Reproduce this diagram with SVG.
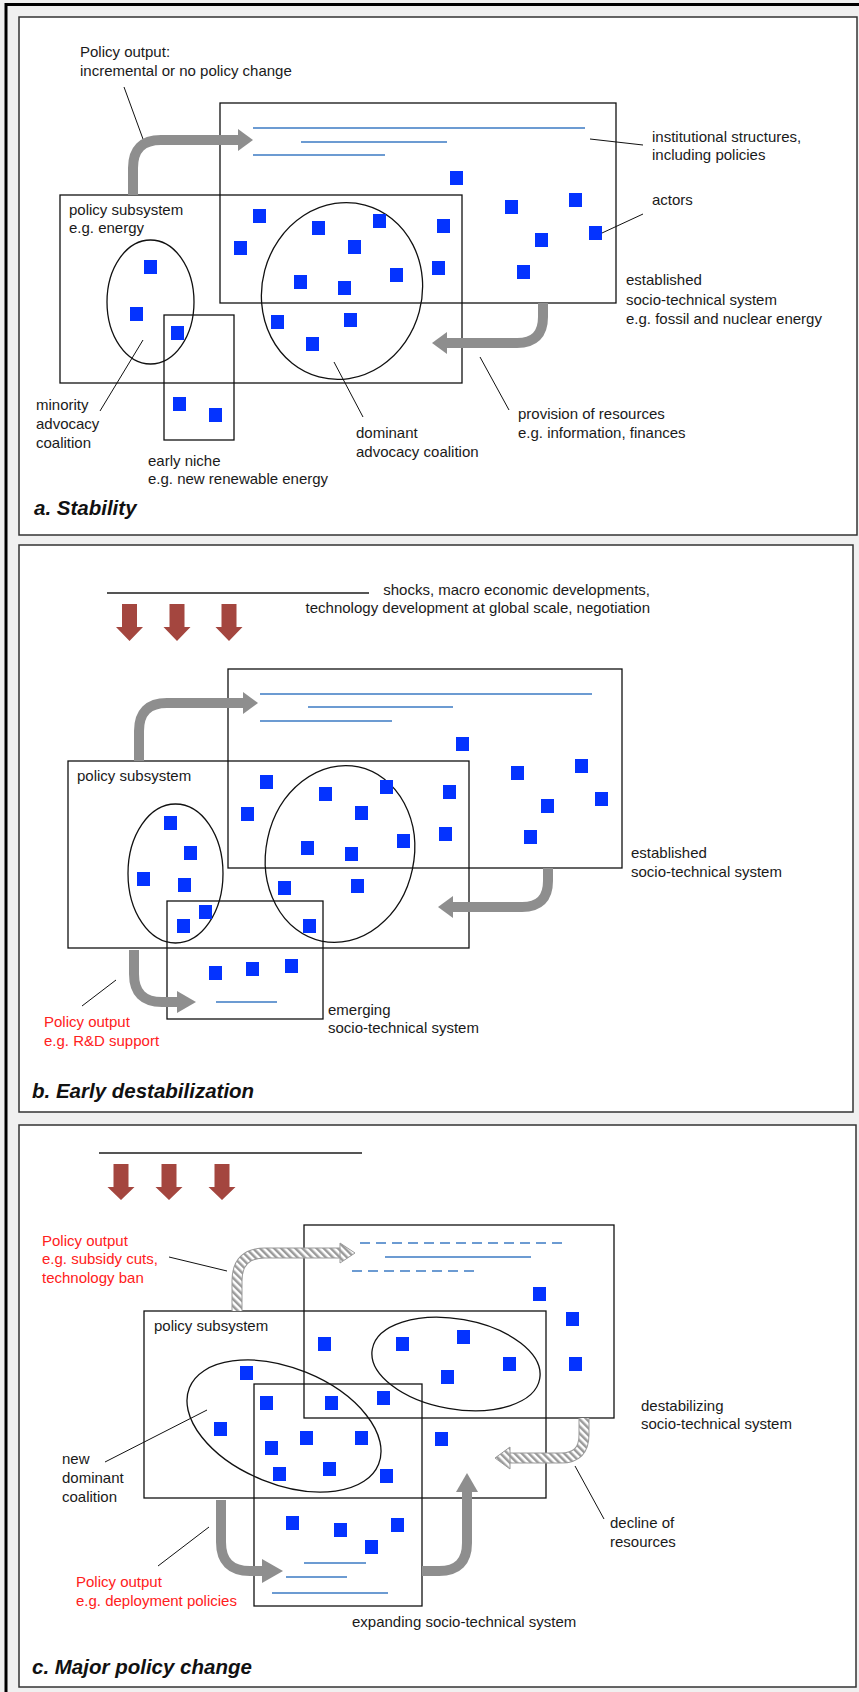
<svg xmlns="http://www.w3.org/2000/svg" width="859" height="1692" viewBox="0 0 859 1692">
<defs>
<style>
.t{font-family:"Liberation Sans",Arial,sans-serif;font-size:15px;fill:#1a1a1a}
.r{fill:#ff2020}
.ti{font-family:"Liberation Sans",Arial,sans-serif;font-size:20.5px;font-weight:bold;font-style:italic;fill:#111}
.panel{fill:#fff;stroke:#333;stroke-width:1.5}
.box{fill:none;stroke:#111;stroke-width:1.3}
.ell{fill:none;stroke:#111;stroke-width:1.3}
.sq{fill:#0433ff}
.bl{stroke:#6c9bd2;stroke-width:2.2;fill:none}
.bd{stroke:#6c9bd2;stroke-width:2.2;fill:none;stroke-dasharray:10 6}
.lead{stroke:#111;stroke-width:1;fill:none}
.ga{stroke:#8e8e8e;stroke-width:10;fill:none}
.gh{fill:#8e8e8e}
.ho{stroke:#999;stroke-width:11;fill:none}
.hi{stroke:url(#hatch);stroke-width:9;fill:none}
.hh{fill:url(#hatch);stroke:#999;stroke-width:1}
.ra{fill:#a4463f}
.dk{stroke:#555;stroke-width:2}
</style>
<pattern id="hatch" patternUnits="userSpaceOnUse" width="5" height="5" patternTransform="rotate(-45)">
<rect width="5" height="5" fill="#fff"/>
<rect width="2.5" height="5" fill="#9a9a9a"/>
</pattern>
</defs>
<rect x="0" y="0" width="859" height="1692" fill="#f0f0f0"/>
<rect x="6" y="4.5" width="900" height="1800" fill="none" stroke="#000" stroke-width="3"/>

<!-- Panel a -->
<g id="panel-a">
<rect class="panel" x="19" y="17" width="838" height="518"/>
<g id="a-established">
<rect class="box" x="220" y="103" width="396" height="200"/>
<line class="bl" x1="253" y1="128" x2="585" y2="128"/>
<line class="bl" x1="301" y1="142" x2="447" y2="142"/>
<line class="bl" x1="253" y1="155" x2="385" y2="155"/>
</g>
<g id="a-policy-subsystem"><rect class="box" x="60" y="195" width="402" height="188"/></g>
<g id="a-minority"><ellipse class="ell" cx="150.5" cy="302" rx="43.5" ry="62"/></g>
<g id="a-niche"><rect class="box" x="164" y="315" width="70" height="125"/></g>
<g id="a-dominant"><ellipse class="ell" cx="342" cy="291" rx="80" ry="89" transform="rotate(15 342 291)"/></g>
<g id="a-actors">
<rect class="sq" x="253" y="209" width="13" height="14"/>
<rect class="sq" x="234" y="241" width="13" height="14"/>
<rect class="sq" x="312" y="221" width="13" height="14"/>
<rect class="sq" x="373" y="214" width="13" height="14"/>
<rect class="sq" x="348" y="240" width="13" height="14"/>
<rect class="sq" x="390" y="268" width="13" height="14"/>
<rect class="sq" x="294" y="275" width="13" height="14"/>
<rect class="sq" x="144" y="260" width="13" height="14"/>
<rect class="sq" x="450" y="171" width="13" height="14"/>
<rect class="sq" x="437" y="219" width="13" height="14"/>
<rect class="sq" x="432" y="261" width="13" height="14"/>
<rect class="sq" x="505" y="200" width="13" height="14"/>
<rect class="sq" x="569" y="193" width="13" height="14"/>
<rect class="sq" x="535" y="233" width="13" height="14"/>
<rect class="sq" x="589" y="226" width="13" height="14"/>
<rect class="sq" x="517" y="265" width="13" height="14"/>
<rect class="sq" x="338" y="281" width="13" height="14"/>
<rect class="sq" x="130" y="307" width="13" height="14"/>
<rect class="sq" x="171" y="326" width="13" height="14"/>
<rect class="sq" x="271" y="315" width="13" height="14"/>
<rect class="sq" x="344" y="313" width="13" height="14"/>
<rect class="sq" x="306" y="337" width="13" height="14"/>
<rect class="sq" x="173" y="397" width="13" height="14"/>
<rect class="sq" x="209" y="408" width="13" height="14"/>
</g>
<g id="a-labels">
<text class="t" x="80" y="57">Policy output:</text>
<text class="t" x="80" y="76">incremental or no policy change</text>
<text class="t" x="652" y="142">institutional structures,</text>
<text class="t" x="652" y="160">including policies</text>
<text class="t" x="652" y="205">actors</text>
<text class="t" x="69" y="215">policy subsystem</text>
<text class="t" x="69" y="233">e.g. energy</text>
<text class="t" x="626" y="285">established</text>
<text class="t" x="626" y="305">socio-technical system</text>
<text class="t" x="626" y="324">e.g. fossil and nuclear energy</text>
<text class="t" x="36" y="410">minority</text>
<text class="t" x="36" y="429">advocacy</text>
<text class="t" x="36" y="448">coalition</text>
<text class="t" x="148" y="466">early niche</text>
<text class="t" x="148" y="484">e.g. new renewable energy</text>
<text class="t" x="356" y="438">dominant</text>
<text class="t" x="356" y="457">advocacy coalition</text>
<text class="t" x="518" y="419">provision of resources</text>
<text class="t" x="518" y="438">e.g. information, finances</text>
<text class="ti" x="34" y="515">a. Stability</text>
</g>
</g>

<!-- Panel b -->
<g id="panel-b">
<rect class="panel" x="19" y="545" width="834" height="567"/>
<g id="b-landscape">
<line class="dk" x1="107" y1="593" x2="369" y2="593"/>
<polygon class="ra" points="122,604 137,604 137,627 143,627 129.5,641 116,627 122,627"/>
<polygon class="ra" points="169.5,604 184.5,604 184.5,627 190.5,627 177,641 163.5,627 169.5,627"/>
<polygon class="ra" points="221.5,604 236.5,604 236.5,627 242.5,627 229,641 215.5,627 221.5,627"/>
<text class="t" x="650" y="595" text-anchor="end">shocks, macro economic developments,</text>
<text class="t" x="650" y="613" text-anchor="end">technology development at global scale, negotiation</text>
</g>
<g id="b-established">
<rect class="box" x="228" y="669" width="394" height="199"/>
<line class="bl" x1="260" y1="694" x2="592" y2="694"/>
<line class="bl" x1="308" y1="707" x2="453" y2="707"/>
<line class="bl" x1="260" y1="721" x2="392" y2="721"/>
</g>
<g id="b-policy-subsystem"><rect class="box" x="68" y="761" width="401" height="187"/></g>
<g id="b-minority"><ellipse class="ell" cx="175.5" cy="873.5" rx="47.5" ry="69.5"/></g>
<g id="b-dominant"><ellipse class="ell" cx="340" cy="854" rx="74" ry="89" transform="rotate(12 340 854)"/></g>
<g id="b-emerging">
<rect class="box" x="167" y="901" width="156" height="118"/>
<line class="bl" x1="216" y1="1002" x2="277" y2="1002"/>
</g>
<g id="b-actors">
<rect class="sq" x="260" y="775" width="13" height="14"/>
<rect class="sq" x="241" y="807" width="13" height="14"/>
<rect class="sq" x="319" y="787" width="13" height="14"/>
<rect class="sq" x="380" y="780" width="13" height="14"/>
<rect class="sq" x="355" y="806" width="13" height="14"/>
<rect class="sq" x="397" y="834" width="13" height="14"/>
<rect class="sq" x="164" y="816" width="13" height="14"/>
<rect class="sq" x="456" y="737" width="13" height="14"/>
<rect class="sq" x="443" y="785" width="13" height="14"/>
<rect class="sq" x="439" y="827" width="13" height="14"/>
<rect class="sq" x="511" y="766" width="13" height="14"/>
<rect class="sq" x="575" y="759" width="13" height="14"/>
<rect class="sq" x="541" y="799" width="13" height="14"/>
<rect class="sq" x="595" y="792" width="13" height="14"/>
<rect class="sq" x="524" y="830" width="13" height="14"/>
<rect class="sq" x="184" y="846" width="13" height="14"/>
<rect class="sq" x="137" y="872" width="13" height="14"/>
<rect class="sq" x="178" y="878" width="13" height="14"/>
<rect class="sq" x="199" y="905" width="13" height="14"/>
<rect class="sq" x="177" y="919" width="13" height="14"/>
<rect class="sq" x="301" y="841" width="13" height="14"/>
<rect class="sq" x="345" y="847" width="13" height="14"/>
<rect class="sq" x="278" y="881" width="13" height="14"/>
<rect class="sq" x="351" y="879" width="13" height="14"/>
<rect class="sq" x="303" y="919" width="13" height="14"/>
<rect class="sq" x="209" y="966" width="13" height="14"/>
<rect class="sq" x="246" y="962" width="13" height="14"/>
<rect class="sq" x="285" y="959" width="13" height="14"/>
</g>
<g id="b-labels">
<text class="t" x="77" y="781">policy subsystem</text>
<text class="t" x="631" y="858">established</text>
<text class="t" x="631" y="877">socio-technical system</text>
<text class="t" x="328" y="1015">emerging</text>
<text class="t" x="328" y="1033">socio-technical system</text>
<text class="t r" x="44" y="1027">Policy output</text>
<text class="t r" x="44" y="1046">e.g. R&amp;D support</text>
<text class="ti" x="32" y="1098">b. Early destabilization</text>
</g>
</g>

<!-- Panel c -->
<g id="panel-c">
<rect class="panel" x="19" y="1125" width="837" height="562"/>
<g id="c-landscape">
<line class="dk" x1="99" y1="1153" x2="362" y2="1153"/>
<polygon class="ra" points="113.5,1164 128.5,1164 128.5,1187 134.5,1187 121,1200 107.5,1187 113.5,1187"/>
<polygon class="ra" points="161.5,1164 176.5,1164 176.5,1187 182.5,1187 169,1200 155.5,1187 161.5,1187"/>
<polygon class="ra" points="214.5,1164 229.5,1164 229.5,1187 235.5,1187 222,1200 208.5,1187 214.5,1187"/>
</g>
<g id="c-destabilizing">
<rect class="box" x="304" y="1225" width="310" height="193"/>
<line class="bd" x1="360" y1="1243" x2="566" y2="1243"/>
<line class="bl" x1="385" y1="1257" x2="531" y2="1257"/>
<line class="bd" x1="352" y1="1271" x2="474" y2="1271"/>
</g>
<g id="c-policy-subsystem"><rect class="box" x="144" y="1311" width="402" height="187"/></g>
<g id="c-expanding">
<rect class="box" x="254" y="1384" width="168" height="222"/>
<line class="bl" x1="304" y1="1563" x2="366" y2="1563"/>
<line class="bl" x1="286" y1="1577" x2="347" y2="1577"/>
<line class="bl" x1="272" y1="1593" x2="388" y2="1593"/>
</g>
<g id="c-old-coalition"><ellipse class="ell" cx="456" cy="1364" rx="85" ry="45" transform="rotate(10 456 1364)"/></g>
<g id="c-new-coalition"><ellipse class="ell" cx="284" cy="1426" rx="102" ry="58" transform="rotate(22 284 1426)"/></g>
<g id="c-actors">
<rect class="sq" x="318" y="1337" width="13" height="14"/>
<rect class="sq" x="396" y="1337" width="13" height="14"/>
<rect class="sq" x="240" y="1366" width="13" height="14"/>
<rect class="sq" x="260" y="1396" width="13" height="14"/>
<rect class="sq" x="325" y="1396" width="13" height="14"/>
<rect class="sq" x="377" y="1391" width="13" height="14"/>
<rect class="sq" x="533" y="1287" width="13" height="14"/>
<rect class="sq" x="566" y="1312" width="13" height="14"/>
<rect class="sq" x="457" y="1330" width="13" height="14"/>
<rect class="sq" x="503" y="1357" width="13" height="14"/>
<rect class="sq" x="441" y="1370" width="13" height="14"/>
<rect class="sq" x="569" y="1357" width="13" height="14"/>
<rect class="sq" x="214" y="1422" width="13" height="14"/>
<rect class="sq" x="265" y="1441" width="13" height="14"/>
<rect class="sq" x="300" y="1431" width="13" height="14"/>
<rect class="sq" x="355" y="1431" width="13" height="14"/>
<rect class="sq" x="273" y="1467" width="13" height="14"/>
<rect class="sq" x="323" y="1462" width="13" height="14"/>
<rect class="sq" x="380" y="1469" width="13" height="14"/>
<rect class="sq" x="286" y="1516" width="13" height="14"/>
<rect class="sq" x="334" y="1523" width="13" height="14"/>
<rect class="sq" x="391" y="1518" width="13" height="14"/>
<rect class="sq" x="365" y="1540" width="13" height="14"/>
<rect class="sq" x="435" y="1432" width="13" height="14"/>
</g>
<g id="c-labels">
<text class="t r" x="42" y="1246">Policy output</text>
<text class="t r" x="42" y="1264">e.g. subsidy cuts,</text>
<text class="t r" x="42" y="1283">technology ban</text>
<text class="t" x="154" y="1331">policy subsystem</text>
<text class="t" x="641" y="1411">destabilizing</text>
<text class="t" x="641" y="1429">socio-technical system</text>
<text class="t" x="62" y="1464">new</text>
<text class="t" x="62" y="1483">dominant</text>
<text class="t" x="62" y="1502">coalition</text>
<text class="t" x="610" y="1528">decline of</text>
<text class="t" x="610" y="1547">resources</text>
<text class="t r" x="76" y="1587">Policy output</text>
<text class="t r" x="76" y="1606">e.g. deployment policies</text>
<text class="t" x="352" y="1627">expanding socio-technical system</text>
<text class="ti" x="32" y="1674">c. Major policy change</text>
</g>
</g>

<!-- Connectors -->
<g id="connectors">
<line class="lead" x1="124" y1="87" x2="143" y2="139"/>
<line class="lead" x1="143" y1="340" x2="100" y2="411"/>
<line class="lead" x1="334" y1="362" x2="363" y2="417"/>
<line class="lead" x1="590" y1="139" x2="643" y2="145"/>
<line class="lead" x1="602" y1="233" x2="643" y2="214"/>
<line class="lead" x1="480" y1="357" x2="509" y2="410"/>
<path class="ga" d="M133,195 V168 Q133,140 161,140 H239"/>
<polygon class="gh" points="238,129 253,140 238,151"/>
<path class="ga" d="M543,303 V317 Q543,343 517,343 H446"/>
<polygon class="gh" points="447,332 432,343 447,354"/>

<line class="lead" x1="116" y1="980" x2="82" y2="1006"/>
<path class="ga" d="M139,761 V731 Q139,703 167,703 H244"/>
<polygon class="gh" points="243,692 258,703 243,714"/>
<path class="ga" d="M548,868 V881 Q548,907 522,907 H452"/>
<polygon class="gh" points="453,896 438,907 453,918"/>
<path class="ga" d="M134,950 V974 Q134,1002 162,1002 H178"/>
<polygon class="gh" points="177,991 196,1002 177,1013"/>

<line class="lead" x1="169" y1="1257" x2="227" y2="1271"/>
<line class="lead" x1="105" y1="1462" x2="207" y2="1410"/>
<line class="lead" x1="209" y1="1527" x2="158" y2="1566"/>
<line class="lead" x1="575" y1="1466" x2="604" y2="1519"/>
<path class="ho" d="M237,1311 V1281 Q237,1253 265,1253 H341"/>
<path class="hi" d="M237,1311 V1281 Q237,1253 265,1253 H341"/>
<polygon class="hh" points="340,1243 355,1253 340,1263"/>
<path class="ho" d="M584,1418 V1435 Q584,1458 561,1458 H509"/>
<path class="hi" d="M584,1418 V1435 Q584,1458 561,1458 H509"/>
<polygon class="hh" points="510,1447 495,1458 510,1469"/>
<path class="ga" d="M221,1500 V1542 Q221,1571 250,1571 H263"/>
<polygon class="gh" points="262,1559 283,1571 262,1583"/>
<path class="ga" d="M422,1571 H439 Q467,1571 467,1543 V1491"/>
<polygon class="gh" points="456,1492 467,1473 478,1492"/>
</g>
</svg>
